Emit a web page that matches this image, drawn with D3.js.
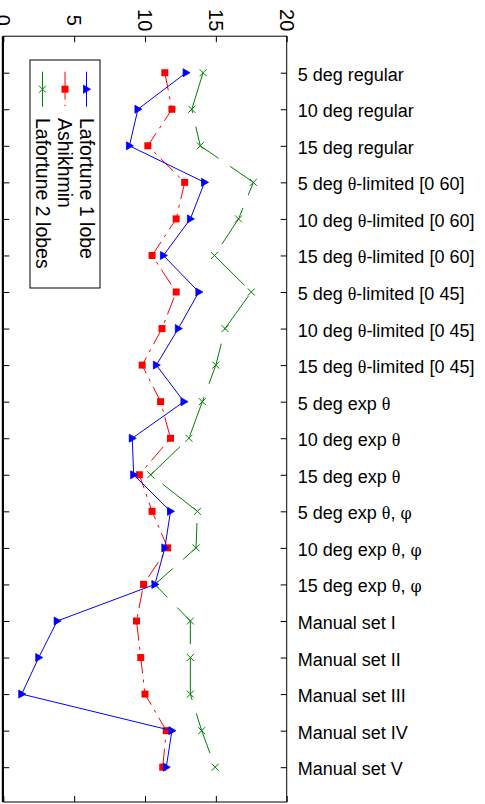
<!DOCTYPE html>
<html>
<head>
<meta charset="utf-8">
<script src="https://cdn.jsdelivr.net/npm/d3@7/dist/d3.min.js"></script>
<style>
  html, body { margin: 0; padding: 0; background: #fff; }
  svg { display: block; }
  text { font-family: "Liberation Sans", Arial, sans-serif; fill: #000; }
</style>
</head>
<body>
<svg id="chart" width="485" height="804"></svg>
<script>
// Categories (parameter sets) and error values per fitted model
const categories = [
  "5 deg regular", "10 deg regular", "15 deg regular",
  "5 deg θ-limited [0 60]", "10 deg θ-limited [0 60]", "15 deg θ-limited [0 60]",
  "5 deg θ-limited [0 45]", "10 deg θ-limited [0 45]", "15 deg θ-limited [0 45]",
  "5 deg exp θ", "10 deg exp θ", "15 deg exp θ",
  "5 deg exp θ, φ", "10 deg exp θ, φ", "15 deg exp θ, φ",
  "Manual set I", "Manual set II", "Manual set III", "Manual set IV", "Manual set V"
];
const lafortune1 = [12.9, 9.5, 8.9, 14.2, 13.2, 11.3, 13.8, 12.35, 10.8, 12.75,
                    9.1, 9.2, 11.8, 11.4, 10.7, 3.8, 2.5, 1.3, 11.9, 11.5];
const ashikhmin  = [11.4, 11.9, 10.2, 12.8, 12.2, 10.5, 12.2, 11.2, 9.8, 11.1,
                    11.8, 9.6, 10.5, 11.6, 9.9, 9.4, 9.7, 10.0, 11.5, 11.25];
const lafortune2 = [14.1, 13.3, 13.9, 17.65, 16.6, 14.9, 17.5, 15.65, 15.0, 14.05,
                    13.1, 10.4, 13.7, 13.6, 10.7, 13.2, 13.2, 13.2, 14.0, 14.95];
const valueTicks = [0, 5, 10, 15, 20];
const seriesNames = ["Lafortune 1 lobe", "Ashikhmin", "Lafortune 2 lobes"];

const svg = d3.select("#chart");

// Plot frame
const frame = { left: 3.3, right: 286.7, top: 36.2, bottom: 802 };

const x = d3.scaleLinear().domain([0, 20]).range([frame.left, frame.right]);
const y = d3.scalePoint().domain(categories).range([72.7, 767.2]);

// Greek letters drawn in a serif face
function labelWithGreek(sel, str) {
  const parts = str.split(/([θφ])/);
  parts.forEach(p => {
    if (!p) return;
    const t = sel.append("tspan").text(p);
    if (p === "θ") t.style("font-family", "'Liberation Serif', serif");
    if (p === "φ") t.style("font-family", "'DejaVu Serif', serif").style("font-size", "16px");
  });
}

// Axes with inward ticks on all four sides
const gTop = svg.append("g").attr("transform", `translate(0,${frame.top})`)
  .call(d3.axisTop(x).tickValues(valueTicks).tickSize(-6).tickFormat(""));
const gBottom = svg.append("g").attr("transform", `translate(0,${frame.bottom})`)
  .call(d3.axisBottom(x).tickValues(valueTicks).tickSize(-6).tickFormat(""));
const gLeft = svg.append("g").attr("transform", `translate(${frame.left},0)`)
  .call(d3.axisLeft(y).tickSize(-6).tickFormat(""));
const gRight = svg.append("g").attr("transform", `translate(${frame.right},0)`)
  .call(d3.axisRight(y).tickSize(-6).tickPadding(11).tickFormat(""));

[gTop, gBottom, gLeft, gRight].forEach(g => {
  g.select(".domain").remove();
  g.selectAll(".tick line").attr("stroke", "#000").attr("stroke-width", 1);
});

// Frame box
svg.append("rect")
  .attr("x", frame.left).attr("y", frame.top)
  .attr("width", frame.right - frame.left).attr("height", frame.bottom - frame.top)
  .attr("fill", "none").attr("stroke", "#000").attr("stroke-width", 1);
// heavier left edge
svg.append("line")
  .attr("x1", frame.left - 0.5).attr("x2", frame.left - 0.5)
  .attr("y1", frame.top).attr("y2", frame.bottom)
  .attr("stroke", "#000").attr("stroke-width", 2);

// Value tick labels, rotated
svg.append("g").selectAll("text").data(valueTicks).join("text")
  .attr("transform", d => `translate(${x(d)},${frame.top - 16}) rotate(90)`)
  .attr("text-anchor", "middle")
  .attr("dominant-baseline", "central")
  .style("font-size", "20px")
  .text(d => d);

// Category labels to the right of the frame
svg.append("g").selectAll("text").data(categories).join("text")
  .attr("x", frame.right + 11)
  .attr("y", d => y(d) + 2)
  .attr("dominant-baseline", "central")
  .style("font-size", "18px")
  .each(function(d) { labelWithGreek(d3.select(this), d); });

// Series
const series = [
  { name: seriesNames[0], values: lafortune1, color: "#0000ff", dash: null, marker: "tri" },
  { name: seriesNames[1], values: ashikhmin,  color: "#ff0000", dash: "18,6,3,6", marker: "sq" },
  { name: seriesNames[2], values: lafortune2, color: "#008000", dash: "42,14", marker: "x" }
];

const line = d3.line().x(d => x(d.v)).y(d => y(d.c));

function drawMarker(g, type, color, cx, cy) {
  if (type === "tri") {
    g.append("path")
      .attr("d", `M${cx + 4},${cy} L${cx - 3},${cy - 4} L${cx - 3},${cy + 4} Z`)
      .attr("fill", color).attr("stroke", color).attr("stroke-width", 0.8);
  } else if (type === "sq") {
    g.append("rect")
      .attr("x", cx - 3.5).attr("y", cy - 3.5).attr("width", 7).attr("height", 7)
      .attr("fill", color);
  } else {
    g.append("path")
      .attr("d", `M${cx - 3.5},${cy - 3.5} L${cx + 3.5},${cy + 3.5} M${cx - 3.5},${cy + 3.5} L${cx + 3.5},${cy - 3.5}`)
      .attr("stroke", color).attr("stroke-width", 1).attr("fill", "none");
  }
}

// draw green first, then red, then blue on top
[series[2], series[1], series[0]].forEach(s => {
  const pts = s.values.map((v, i) => ({ v, c: categories[i] }));
  const g = svg.append("g");
  g.append("path")
    .attr("d", line(pts))
    .attr("fill", "none")
    .attr("stroke", s.color)
    .attr("stroke-width", 1)
    .attr("stroke-dasharray", s.dash);
  pts.forEach(p => drawMarker(g, s.marker, s.color, x(p.v), y(p.c)));
});

// Legend (rotated like the value axis)
const lg = svg.append("g");
lg.append("rect")
  .attr("x", 30).attr("y", 60).attr("width", 70).attr("height", 228)
  .attr("fill", "#fff").attr("stroke", "#000").attr("stroke-width", 1);

const legendX = [86.5, 65, 42.5];
series.forEach((s, i) => {
  const lx = legendX[i];
  const ly0 = 71.7, ly1 = 106.7;
  lg.append("line")
    .attr("x1", lx).attr("x2", lx).attr("y1", ly0).attr("y2", ly1)
    .attr("stroke", s.color).attr("stroke-width", 1)
    .attr("stroke-dasharray", s.marker === "sq" ? "28,5,1.5,5" : null);
  drawMarker(lg, s.marker, s.color, lx, (ly0 + ly1) / 2);
  lg.append("text")
    .attr("transform", `translate(${lx},118) rotate(90)`)
    .attr("dominant-baseline", "central")
    .style("font-size", "19.5px")
    .text(s.name);
});
</script>
</body>
</html>
